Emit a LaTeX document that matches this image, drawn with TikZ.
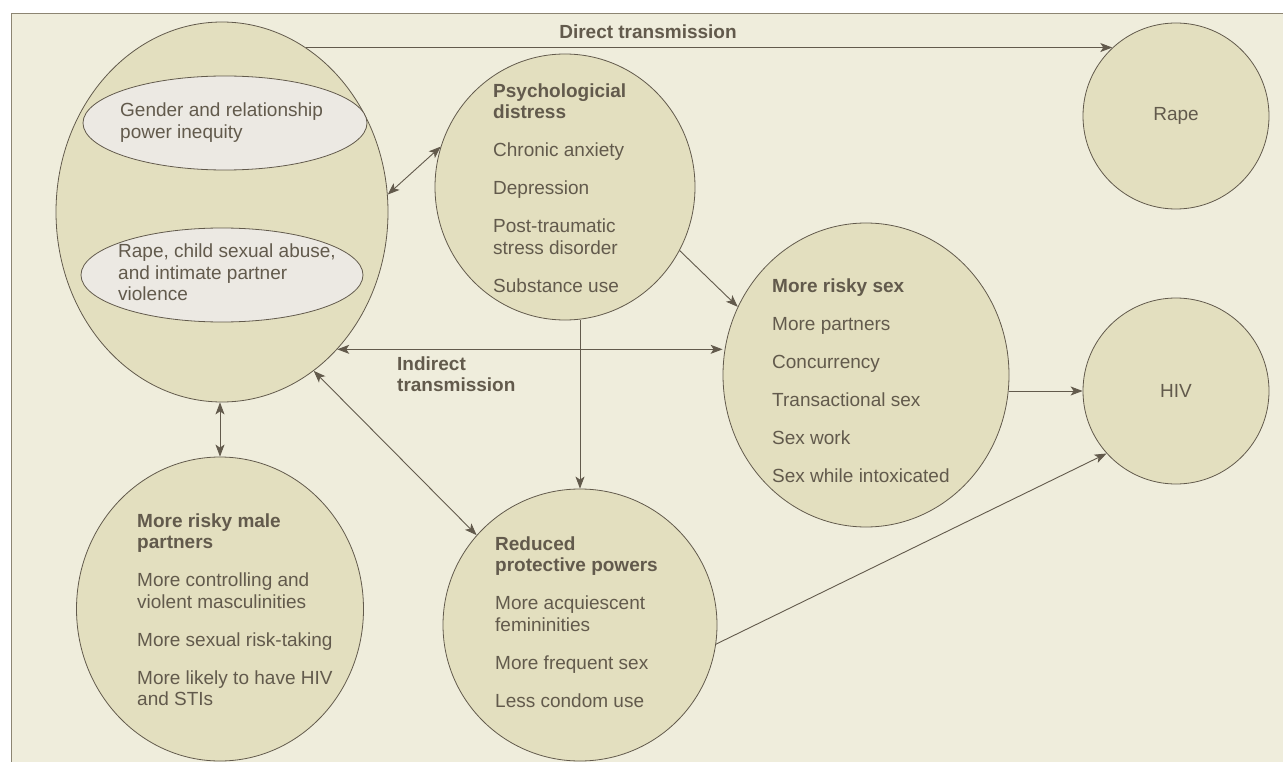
\documentclass[tikz,border=0pt]{standalone}
\usepackage{fontspec}
\setmainfont{Liberation Sans}
\usetikzlibrary{arrows.meta,shapes.geometric,positioning}
\definecolor{panelcol}{HTML}{EFEDDC}
\definecolor{blobcol}{HTML}{E3DFBF}
\definecolor{innercol}{HTML}{ECE9E3}
\definecolor{inkcol}{HTML}{625A4C}
\definecolor{rulecol}{HTML}{8C8572}
\tikzstyle{blob}=[ellipse, draw=inkcol, fill=blobcol, inner sep=0pt, line width=0.8pt, text=inkcol]
\tikzstyle{innerblob}=[ellipse, draw=inkcol, fill=innercol, inner sep=0pt, line width=0.8pt]
\tikzstyle{txt}=[anchor=north west, align=left, inner sep=0pt, text=inkcol]
\tikzstyle{link}=[draw=inkcol, line width=0.9pt]

\begin{document}
\begin{tikzpicture}[x=1pt,y=-1pt,>={Stealth[length=12pt,width=9pt,inset=3pt]},font=\fontsize{19}{21.5}\selectfont]
\useasboundingbox (0,0) rectangle (1283,762);
\fill[white] (0,0) rectangle (1283,762);
\fill[panelcol] (11,14) rectangle (1283,762);
\draw[rulecol, line width=1pt] (11,762) -- (11,14) -- (1283,14);

% circles
\node[blob, minimum width=332pt, minimum height=380pt] (abuse) at (222,212) {};
\node[innerblob, minimum width=284pt, minimum height=94pt] (inequity) at (225,123) {};
\node[innerblob, minimum width=282pt, minimum height=94pt] (violence) at (222,275) {};
\node[blob, minimum width=260pt, minimum height=266pt] (distress) at (565,187) {};
\node[blob, minimum size=186pt] (rape) at (1176,116) {Rape};
\node[blob, minimum width=286pt, minimum height=304pt] (risky) at (866,375) {};
\node[blob, minimum size=186pt] (hiv) at (1176,391) {HIV};
\node[blob, minimum width=287pt, minimum height=304pt] (partners) at (220,609) {};
\node[blob, minimum width=274pt, minimum height=272pt] (protect) at (580,625) {};

% texts
\node[txt] (inequitytxt) at (120,103) {Gender and relationship\\power inequity};
\node[txt] (violencetxt) at (118,244) {Rape, child sexual abuse,\\and intimate partner\\violence};
\node[txt] (distresstxt) at (493,83.5) {\textbf{Psychologicial}\\\textbf{distress}\\[16.5pt]Chronic anxiety\\[16.5pt]Depression\\[16.5pt]Post-traumatic\\stress disorder\\[16.5pt]Substance use};
\node[txt] (riskytxt) at (772,278.5) {\textbf{More risky sex}\\[16.5pt]More partners\\[16.5pt]Concurrency\\[16.5pt]Transactional sex\\[16.5pt]Sex work\\[16.5pt]Sex while intoxicated};
\node[txt] (partnerstxt) at (137,513.5) {\textbf{More risky male}\\\textbf{partners}\\[16.5pt]More controlling and\\violent masculinities\\[16.5pt]More sexual risk-taking\\[16.5pt]More likely to have HIV\\and STIs};
\node[txt] (protecttxt) at (495,536.5) {\textbf{Reduced}\\\textbf{protective powers}\\[16.5pt]More acquiescent\\femininities\\[16.5pt]More frequent sex\\[16.5pt]Less condom use};

% arrows
\draw[link,->] (abuse.63) -- (abuse.63 -| rape.133);
\node[text=inkcol] (directlbl) at (648,32) {\textbf{Direct transmission}};
\draw[link,<->] (abuse.6) -- (distress.162);
\draw[link,<->] (abuse.310) -- (abuse.310 -| risky.west);
\node[txt] (indirectlbl) at (397,356.5) {\textbf{Indirect}\\\textbf{transmission}};
\draw[link,<->] (abuse.300) -- (protect.139);
\draw[link,<->] (partners.north |- abuse.south) -- (partners.north);
\draw[link,->] (distress.331) -- (risky.152);
\draw[link,->] (protect.north |- distress.south) -- (protect.north);
\draw[link,->] (hiv.west -| risky.east) -- (hiv.west);
\draw[link,->] (protect.352) -- (hiv.222);
\end{tikzpicture}
\end{document}
